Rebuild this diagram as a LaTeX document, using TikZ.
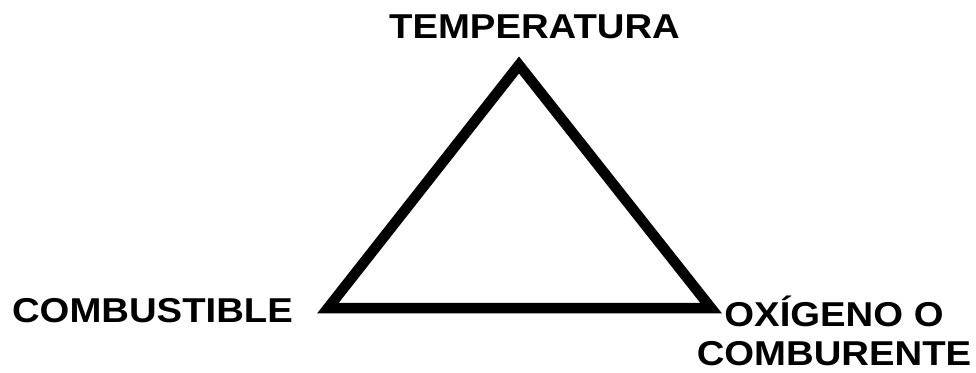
\documentclass[tikz,border=0pt]{standalone}
\usepackage{fontspec}
\setmainfont{Liberation Sans}[FakeStretch=1.11]
\tikzset{
  rotulo/.style={font=\fontsize{34.5}{41}\selectfont\bfseries, inner sep=0pt, anchor=base},
  lado/.style={line width=10.5pt, line join=miter}
}
\begin{document}
\begin{tikzpicture}[x=1pt,y=-1pt]
        \useasboundingbox (0,0) rectangle (976,372);
        % vertices del triangulo
        \coordinate (arriba) at (519,65);
        \coordinate (izq) at (328,308);
        \coordinate (der) at (711,308);
        \draw [lado] (arriba) -- (izq) -- (der) -- cycle;
        % rotulos
        \node [rotulo] (temp) at (534.5,38) {TEMPERATURA};
        \node [rotulo] (comb) at (152.5,322) {COMBUSTIBLE};
        \node [rotulo] (oxi) at (834,326) {OXÍGENO O};
        \node [rotulo] (comb2) at (834,365) {COMBURENTE};
    \end{tikzpicture}
\end{document}
